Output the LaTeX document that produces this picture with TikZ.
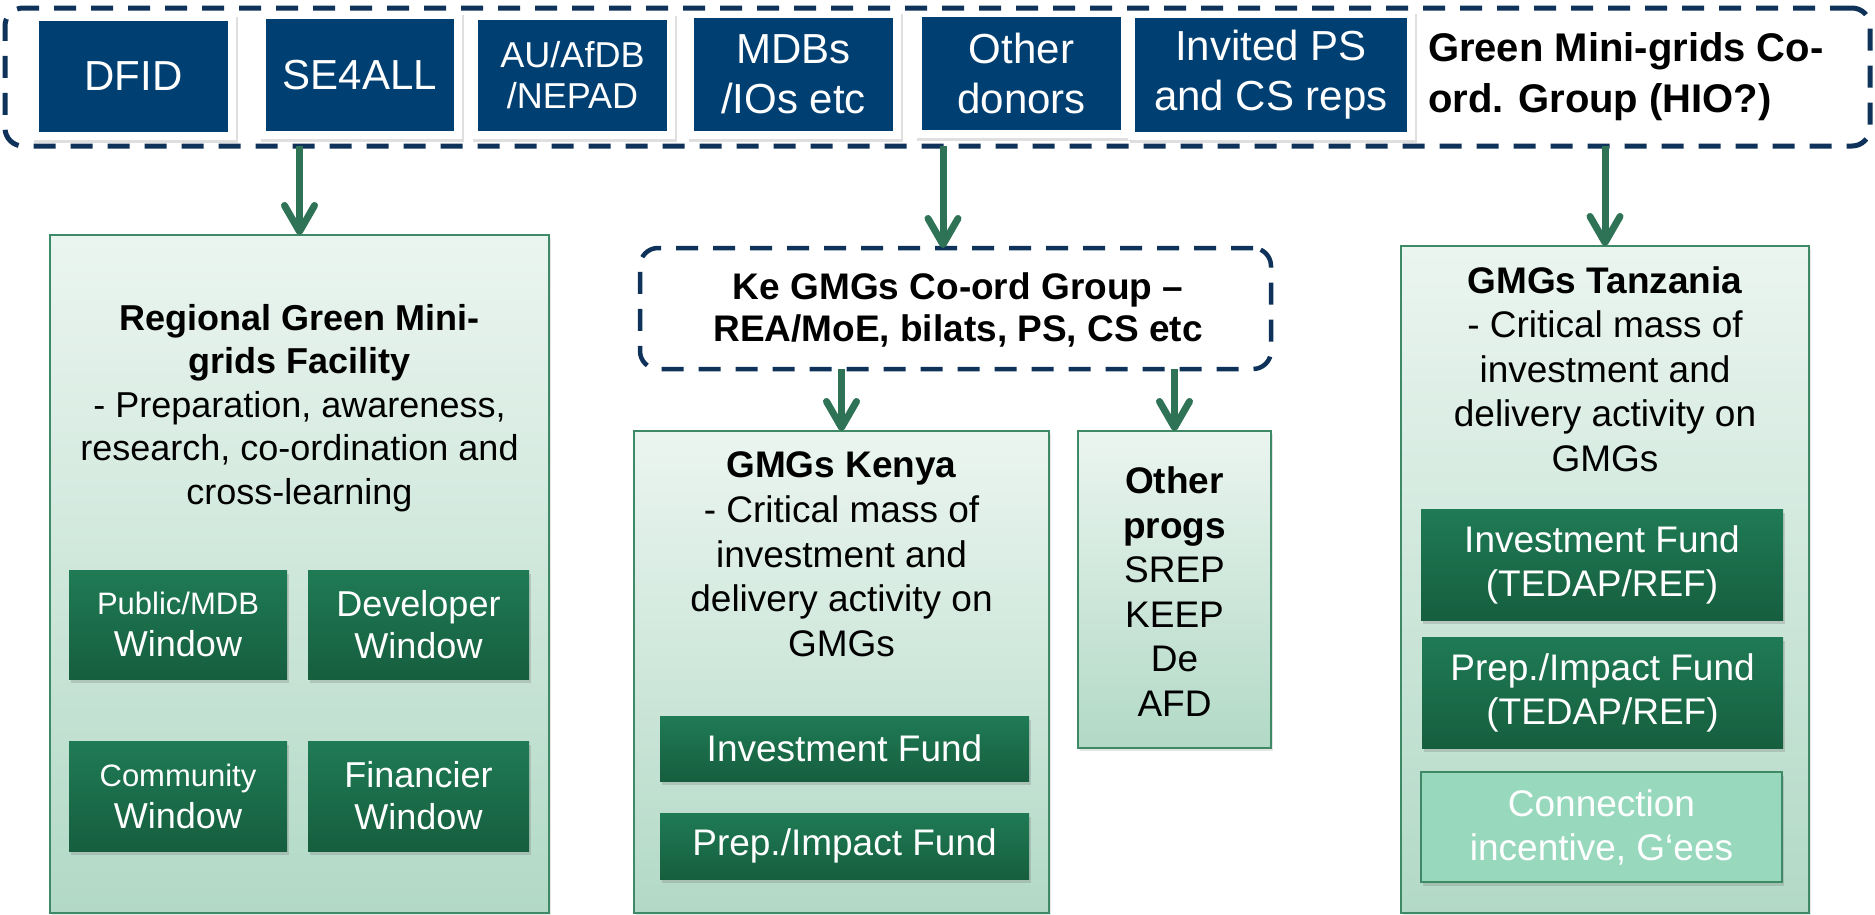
\documentclass[tikz,border=0pt]{standalone}
\usepackage{fontspec}
\setmainfont{Liberation Sans}
\usetikzlibrary{arrows.meta,shadows,fit,backgrounds}
\definecolor{navy}{HTML}{0E3259}
\definecolor{dblue}{HTML}{003F72}
\definecolor{agreen}{HTML}{2E7356}
\definecolor{ptop}{HTML}{EBF5F0}
\definecolor{pbot}{HTML}{B2D9C6}
\definecolor{pborder}{HTML}{3E8A66}
\definecolor{wtop}{HTML}{1F7B55}
\definecolor{wbot}{HTML}{165E3E}
\definecolor{cfill}{HTML}{98D9BE}
\begin{document}
\begin{tikzpicture}[x=1pt,y=-1pt,
  every node/.style={outer sep=0pt, inner sep=0pt},
  dashbox/.style={draw=navy, line width=5pt, dash pattern=on 22pt off 15pt, rounded corners=18pt},
  bluebox/.style={fill=dblue, text=white, align=center, font=\fontsize{42}{50}\selectfont},
  frame/.style={fill=white, inner sep=7.5pt, drop shadow={shadow xshift=2pt, shadow yshift=-3pt, opacity=0.25}},
  panel/.style={draw=pborder, line width=2pt, top color=ptop, bottom color=pbot, drop shadow={shadow xshift=2pt, shadow yshift=-3pt, opacity=0.2}},
  win/.style={top color=wtop, bottom color=wbot, text=white, align=center, drop shadow={shadow xshift=2pt, shadow yshift=-4pt, opacity=0.3}},
  txt/.style={align=center, text=black},
  arr/.style={draw=agreen, line width=7pt, -{Straight Barb[length=26pt,width=30pt,round]}},
  ]
\useasboundingbox (0,0) rectangle (1875,914);

% top group
\node[dashbox, minimum width=1865pt, minimum height=138pt] (top) at (937.5,77) {};
\node[bluebox, minimum width=189pt, minimum height=111pt] (dfid) at (133.5,76.5) {DFID};
\node[bluebox, minimum width=188pt, minimum height=112pt] (se) at (360,75) {SE4ALL};
\node[bluebox, font=\fontsize{36}{41}\selectfont, minimum width=189pt, minimum height=111pt] (au) at (572.5,75.5) {AU/AfDB\\/NEPAD};
\node[bluebox, minimum width=199pt, minimum height=113pt] (mdb) at (793.5,74.5) {MDBs\\/IOs etc};
\node[bluebox, minimum width=199pt, minimum height=113pt] (od) at (1021.5,73.5) {Other\\donors};
\node[bluebox, minimum width=272pt, minimum height=114pt] (inv) at (1271,75) {Invited PS\\and CS reps};
\node[txt, align=left, anchor=west, font=\bfseries\fontsize{40}{51}\selectfont] (title) at (1428,77) {Green Mini-grids Co-\\ord. Group (HIO?)};
\begin{scope}[on background layer]
\fill[white] (0,0) rectangle (1875,914);
\foreach \n in {dfid,se,au,mdb,od,inv} \node[frame, fit=(\n)] {};
\end{scope}

% panels
\node[panel, minimum width=499pt, minimum height=678pt] (reg) at (299.5,574) {};
\node[panel, minimum width=415pt, minimum height=482pt] (ke) at (841.5,672) {};
\node[panel, minimum width=193pt, minimum height=317pt] (oth) at (1174.5,589.5) {};
\node[panel, minimum width=408pt, minimum height=667pt] (tz) at (1605,579.5) {};
\node[dashbox, line width=4.5pt, minimum width=631pt, minimum height=121pt] (kec) at (955.5,308.5) {};

% texts
\node[txt, font=\fontsize{36}{43.5}\selectfont] (regt) at (299.5,408) {\textbf{Regional Green Mini-}\\\textbf{grids Facility}\\- Preparation, awareness,\\research, co-ordination and\\cross-learning};
\node[txt, font=\fontsize{37}{44.75}\selectfont] (ket) at (841.5,554.5) {\textbf{GMGs Kenya}\\- Critical mass of\\investment and\\delivery activity on\\GMGs};
\node[txt, font=\fontsize{37}{44.6}\selectfont] (otht) at (1174.5,591.5) {\textbf{Other}\\\textbf{progs}\\SREP\\KEEP\\De\\AFD};
\node[txt, font=\fontsize{37}{44.5}\selectfont] (tzt) at (1605,369) {\textbf{GMGs Tanzania}\\- Critical mass of\\investment and\\delivery activity on\\GMGs};
\node[txt, font=\bfseries\fontsize{37}{42}\selectfont] (kect) at (958,310) {Ke GMGs Co-ord Group –\\REA/MoE, bilats, PS, CS etc};

% windows
\node[win, font=\fontsize{36}{42}\selectfont, minimum width=218pt, minimum height=109pt] (w1) at (178,624.5) {{\fontsize{31}{42}\selectfont Public/MDB}\\Window};
\node[win, font=\fontsize{36}{42}\selectfont, minimum width=221pt, minimum height=109pt] (w2) at (418.5,624.5) {Developer\\Window};
\node[win, font=\fontsize{36}{42}\selectfont, minimum width=218pt, minimum height=110pt] (w3) at (178,796) {{\fontsize{31}{42}\selectfont Community}\\Window};
\node[win, font=\fontsize{36}{42}\selectfont, minimum width=221pt, minimum height=110pt] (w4) at (418.5,796) {Financier\\Window};

% Kenya funds
\node[win, font=\fontsize{37}{44}\selectfont, minimum width=369pt, minimum height=65pt] (kf1) at (844.5,748.5) {Investment Fund};
\node[win, font=\fontsize{37}{44}\selectfont, minimum width=369pt, minimum height=66pt] (kf2) at (844.5,846) {Prep./Impact Fund};

% Tanzania funds
\node[win, font=\fontsize{37}{44}\selectfont, minimum width=362pt, minimum height=111pt] (tf1) at (1602,564.5) {Investment Fund\\(TEDAP/REF)};
\node[win, font=\fontsize{37}{44}\selectfont, minimum width=361pt, minimum height=111pt] (tf2) at (1602.5,692.5) {Prep./Impact Fund\\(TEDAP/REF)};
\node[fill=cfill, draw=pborder, line width=2pt, text=white, align=center, font=\fontsize{37}{44}\selectfont, minimum width=361pt, minimum height=110pt, drop shadow={shadow xshift=2pt, shadow yshift=-4pt, opacity=0.3}] (tf3) at (1601.5,827) {Connection\\incentive, G‘ees};

% arrows
\coordinate (a2) at (943,0);
\draw[arr] (top.south -| reg.north) -- (reg.north);
\draw[arr] (top.south -| a2) -- (kec.north -| a2);
\draw[arr] (top.south -| tz.north) -- (tz.north);
\draw[arr] (kec.south -| ke.north) -- (ke.north);
\draw[arr] (kec.south -| oth.north) -- (oth.north);
\end{tikzpicture}
\end{document}
